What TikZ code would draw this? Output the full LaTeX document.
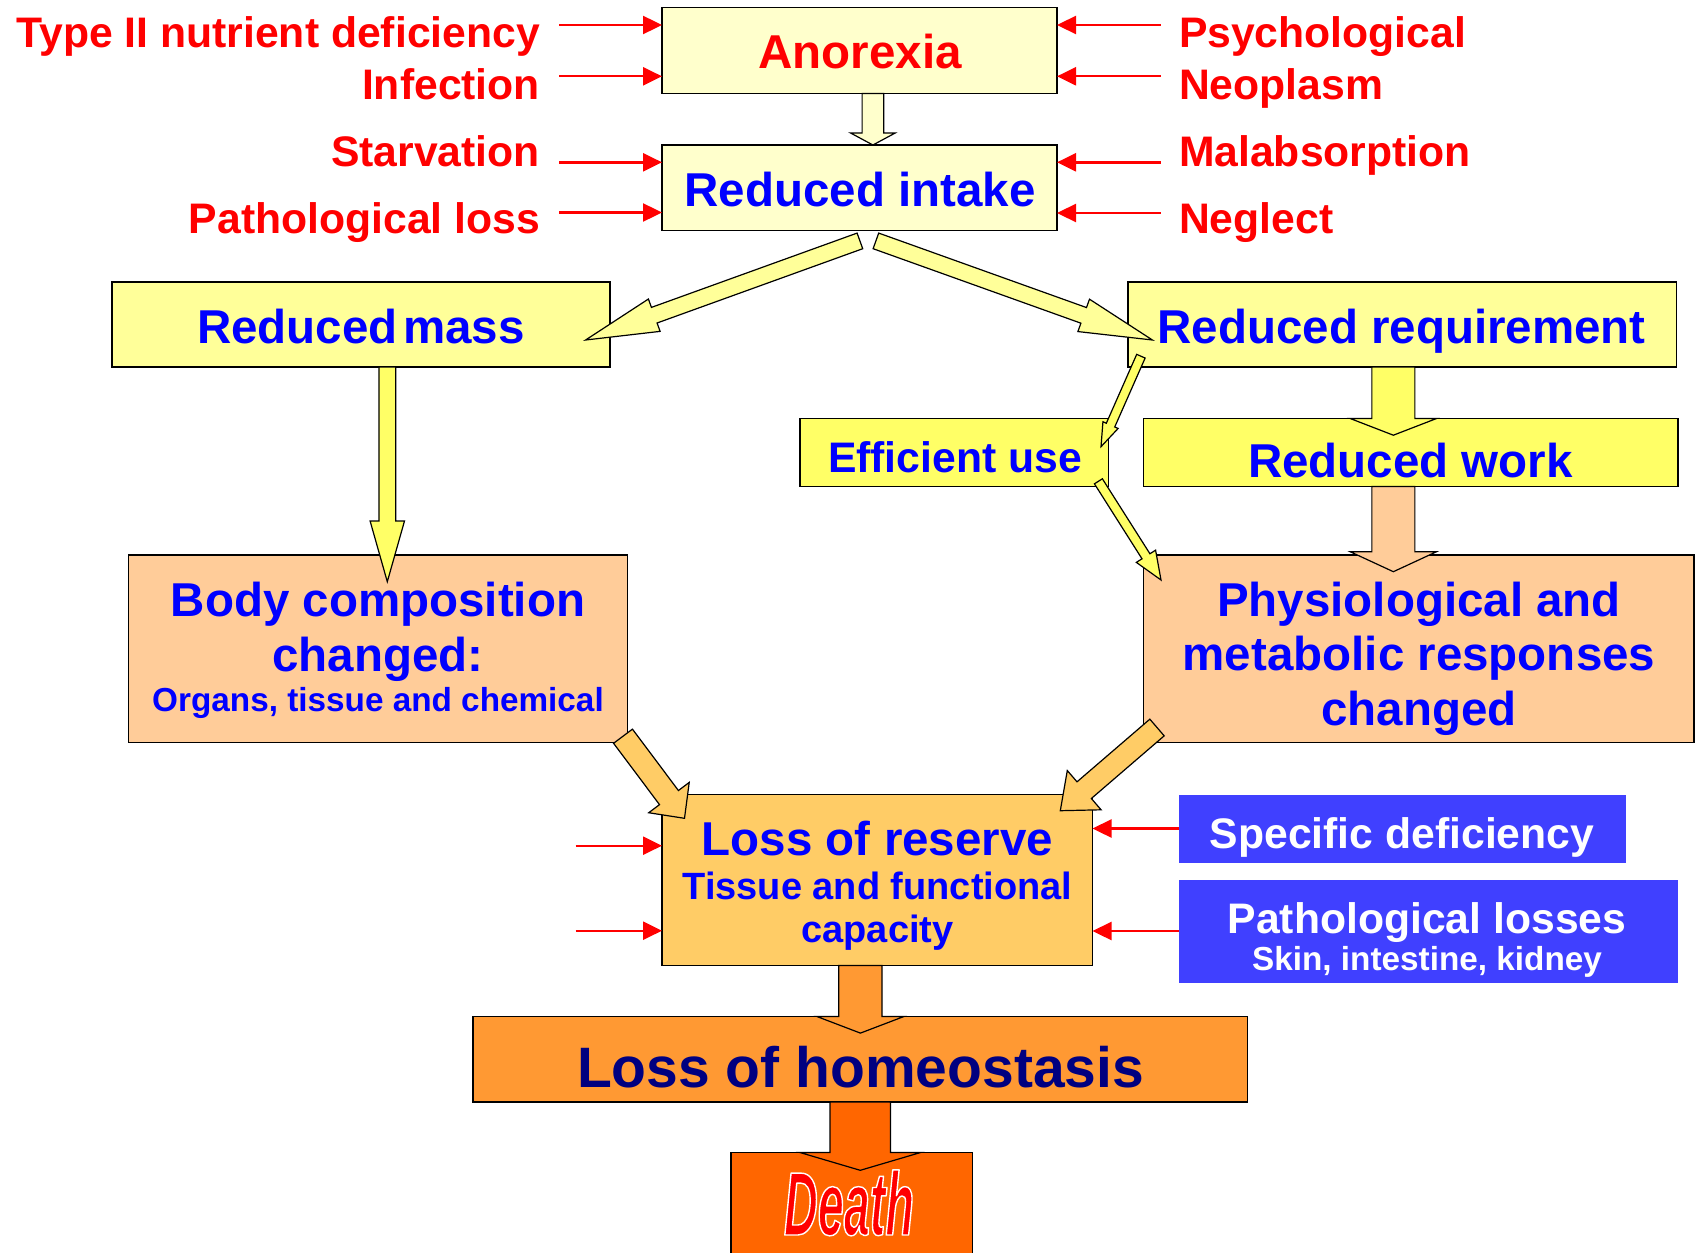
\documentclass[tikz,border=0pt]{standalone}
\usepackage{fontspec}
\setmainfont{Liberation Sans}
\newfontfamily\deathfont[FakeStretch=0.52]{Liberation Sans}
\usetikzlibrary{calc,arrows.meta}
\definecolor{ylA}{HTML}{FFFFCC}
\definecolor{ylB}{HTML}{FFFF99}
\definecolor{ylC}{HTML}{FFFF66}
\definecolor{pch}{HTML}{FFCC99}
\definecolor{orA}{HTML}{FFCC66}
\definecolor{orB}{HTML}{FF9933}
\definecolor{orC}{HTML}{FF6600}
\definecolor{bluebx}{HTML}{4040FF}
\definecolor{txtblue}{HTML}{0000FF}
\definecolor{navytxt}{HTML}{000080}
\definecolor{myred}{HTML}{FF0000}
\newcommand\fsz[1]{\fontsize{#1}{#1}\selectfont}
\newcommand\outlinedword[1]{%
  \special{pdf:literal direct 1 1 1 RG 0.7 w 1 j 2 Tr}#1\special{pdf:literal direct 0 Tr}}
\tikzset{
  box/.style={draw=black, line width=0.8pt, inner sep=0pt, outer sep=0pt},
  bluebox/.style={fill=bluebx, inner sep=0pt, outer sep=0pt},
  txt/.style={inner sep=0pt, outer sep=0pt, anchor=base},
  redlbl/.style={txt, text=myred, font=\bfseries\fsz{21.35pt}},
  bigblue/.style={txt, text=txtblue, font=\bfseries\fsz{23.75pt}},
  midblue/.style={txt, text=txtblue, font=\bfseries\fsz{21.35pt}},
  smallblue/.style={txt, text=txtblue, font=\bfseries\fsz{16.65pt}},
  tissueblue/.style={txt, text=txtblue, font=\bfseries\fsz{19pt}},
  whitetxt/.style={txt, text=white, font=\bfseries\fsz{21.35pt}},
  whitesmall/.style={txt, text=white, font=\bfseries\fsz{16.65pt}},
  redarr/.style={draw=myred, line width=1.2pt, -{Triangle[length=9.5pt,width=9pt]}},
  barr/.style={draw=black, line width=0.6pt, line join=miter},
}
\newcommand\blockarr[6]{%
  \coordinate (bS) at (#2);
  \coordinate (bT) at (#3);
  \coordinate (bH) at ($(bT)!#6!(bS)$);
  \path[barr,#1] ($(bS)!#4!90:(bT)$) -- ($(bH)!#4!90:(bT)$) -- ($(bH)!#5!90:(bT)$) -- (bT)
     -- ($(bH)!#5!-90:(bT)$) -- ($(bH)!#4!-90:(bT)$) -- ($(bS)!#4!-90:(bT)$) -- cycle;
}
\begin{document}
\begin{tikzpicture}[x=0.5pt,y=-0.5pt]
\useasboundingbox (0,0) rectangle (1696,1252);
\fill[white] (0,0) rectangle (1696,1252);
\clip (0,0) rectangle (1696,1252);

% boxes
\node[box, fill=ylA, minimum width=197.5pt, minimum height=43pt] (anorexia) at (859.5,50.5) {};
\node[box, fill=ylA, minimum width=197.5pt, minimum height=42.75pt] (intake) at (859.5,187.75) {};
\node[box, fill=ylB, minimum width=249pt, minimum height=42.5pt] (mass) at (361,324.5) {};
\node[box, fill=ylB, minimum width=274.25pt, minimum height=42.5pt] (req) at (1402.25,324.5) {};
\node[box, fill=ylC, minimum width=154.25pt, minimum height=34pt] (eff) at (954.25,452.5) {};
\node[box, fill=ylC, minimum width=267.25pt, minimum height=34pt] (work) at (1410.75,452.5) {};
\node[box, fill=pch, minimum width=249.5pt, minimum height=93.75pt] (body) at (378,648.75) {};
\node[box, fill=pch, minimum width=275.25pt, minimum height=93.75pt] (phys) at (1418.75,648.75) {};
\node[box, fill=orA, minimum width=215.25pt, minimum height=85.5pt] (reserve) at (877.25,880) {};
\node[bluebox, minimum width=223.75pt, minimum height=34pt] (spec) at (1402.25,828.5) {};
\node[bluebox, minimum width=249.75pt, minimum height=51.5pt] (path) at (1428.25,931) {};
\node[box, fill=orB, minimum width=387.25pt, minimum height=42.75pt] (homeo) at (860.25,1059.25) {};
\node[box, fill=orC, minimum width=120.75pt, minimum height=54.75pt] (death) at (851.75,1207.25) {};

% block arrows
\blockarr{fill=ylA}{$(anorexia.south)+(13.4,0)$}{$(intake.north)+(13.4,0)$}{5.4pt}{11.15pt}{6pt}
\blockarr{fill=ylB}{$(intake.south)+(0.4,10.4)$}{$(mass.south east)+(-24.4,-27)$}{4.15pt}{8.6pt}{36.5pt}
\blockarr{fill=ylB}{$(intake.south)+(16.4,10.4)$}{$(req.south west)+(24.4,-27)$}{4.15pt}{8.6pt}{36.5pt}
\blockarr{fill=ylC}{$(mass.south)+(26.3,0)$}{$(body.north)+(9.3,26.7)$}{4.2pt}{8.6pt}{30.35pt}
\blockarr{fill=ylC}{$(req.south)+(-8.9,0)$}{$(work.north)+(-17.4,16.7)$}{10.75pt}{21.6pt}{8.35pt}
\blockarr{fill=pch}{$(work.south)+(-17.4,0)$}{$(phys.north)+(-25.4,16.7)$}{10.75pt}{21.6pt}{10pt}
\blockarr{fill=ylC}{$(req.south west)+(12.9,-10.8)$}{$(eff.north east)+(-7.5,28.2)$}{2.3pt}{4.15pt}{11.8pt}
\blockarr{fill=ylC}{$(eff.south east)+(-10.1,-5.2)$}{$(phys.north west)+(17.5,25)$}{2.35pt}{5.7pt}{14.05pt}
\blockarr{fill=orA}{$(body.south east)+(-4.5,-6.3)$}{$(reserve.north west)+(22.5,23.8)$}{5.9pt}{12.65pt}{12.95pt}
\blockarr{fill=orA}{$(phys.south west)+(13.5,-15)$}{$(reserve.north east)+(-32.2,16.2)$}{5.5pt}{12.95pt}{15.75pt}
\blockarr{fill=orB}{$(reserve.south)+(-16.85,0)$}{$(homeo.north)+(0.15,16.6)$}{10.8pt}{21.75pt}{8.3pt}
\blockarr{fill=orC}{$(homeo.south)+(0,0)$}{$(death.north)+(8.5,17.8)$}{15.1pt}{30.15pt}{8.9pt}

% red cause labels
\node[redlbl, anchor=base east] (lbA) at (540,47.5) {Type II nutrient deficiency};
\node[redlbl, anchor=base east] (lbB) at (540,99) {Infection};
\node[redlbl, anchor=base east] (lbC) at (540,166.7) {Starvation};
\node[redlbl, anchor=base east] (lbD) at (540,233) {Pathological loss};
\node[redlbl, anchor=base west] (lbE) at (1179,47.5) {Psychological};
\node[redlbl, anchor=base west] (lbF) at (1179,99) {Neoplasm};
\node[redlbl, anchor=base west] (lbG) at (1179,166.7) {Malabsorption};
\node[redlbl, anchor=base west] (lbH) at (1179,233) {Neglect};

% red arrows
\coordinate (la1) at (559,25);
\coordinate (la2) at (559,76.3);
\coordinate (la3) at (559,162.3);
\coordinate (la4) at (559,212.5);
\coordinate (ra1) at (1160.6,25);
\coordinate (ra2) at (1160.6,76.3);
\coordinate (ra3) at (1160.6,162.3);
\coordinate (ra4) at (1160.6,213);
\coordinate (lb1) at (575.6,845.7);
\coordinate (lb2) at (575.6,930.7);
\draw[redarr] (la1) -- (la1 -| anorexia.west);
\draw[redarr] (la2) -- (la2 -| anorexia.west);
\draw[redarr] (la3) -- (la3 -| intake.west);
\draw[redarr] (la4) -- (la4 -| intake.west);
\draw[redarr] (ra1) -- (ra1 -| anorexia.east);
\draw[redarr] (ra2) -- (ra2 -| anorexia.east);
\draw[redarr] (ra3) -- (ra3 -| intake.east);
\draw[redarr] (ra4) -- (ra4 -| intake.east);
\draw[redarr] (lb1) -- (lb1 -| reserve.west);
\draw[redarr] (lb2) -- (lb2 -| reserve.west);
\draw[redarr] (spec.west) -- (spec.west -| reserve.east);
\draw[redarr] (path.west) -- (path.west -| reserve.east);

% box texts
\node[txt, text=myred, font=\bfseries\fsz{23.75pt}] (tAn) at (860,68.3) {Anorexia};
\node[bigblue] (tIn) at (860,206.7) {Reduced intake};
\node[bigblue] (tMa) at (361,343.3) {Reduced\hspace{0.12em}mass};
\node[bigblue] (tRq) at (1401.7,343.3) {Reduced requirement};
\node[midblue] (tEf) at (955,472.7) {Efficient use};
\node[bigblue] (tWk) at (1410.4,477.3) {Reduced work};
\node[bigblue] (tBo1) at (378,616.5) {Body composition};
\node[bigblue] (tBo2) at (378,671) {changed:};
\node[smallblue] (tBo3) at (378,711) {Organs, tissue and chemical};
\node[bigblue] (tPh1) at (1419,616) {Physiological and};
\node[bigblue] (tPh2) at (1419,670) {metabolic responses};
\node[bigblue] (tPh3) at (1419,725) {changed};
\node[bigblue] (tRe1) at (877.5,855.5) {Loss of reserve};
\node[tissueblue] (tRe2) at (877.5,899.5) {Tissue and functional};
\node[tissueblue] (tRe3) at (877.5,942) {capacity};
\node[whitetxt] (tSp) at (1402,848.3) {Specific deficiency};
\node[whitetxt] (tPa1) at (1427,933.3) {Pathological losses};
\node[whitesmall] (tPa2) at (1427,970) {Skin, intestine, kidney};
\node[txt, text=navytxt, font=\bfseries\fsz{28.5pt}] (tHo) at (860.5,1087.3) {Loss of homeostasis};
\node[txt, text=myred, font=\deathfont\bfseries\itshape\fsz{45pt}] (tDe) at (849,1235) {\outlinedword{Death}};
\end{tikzpicture}
\end{document}
